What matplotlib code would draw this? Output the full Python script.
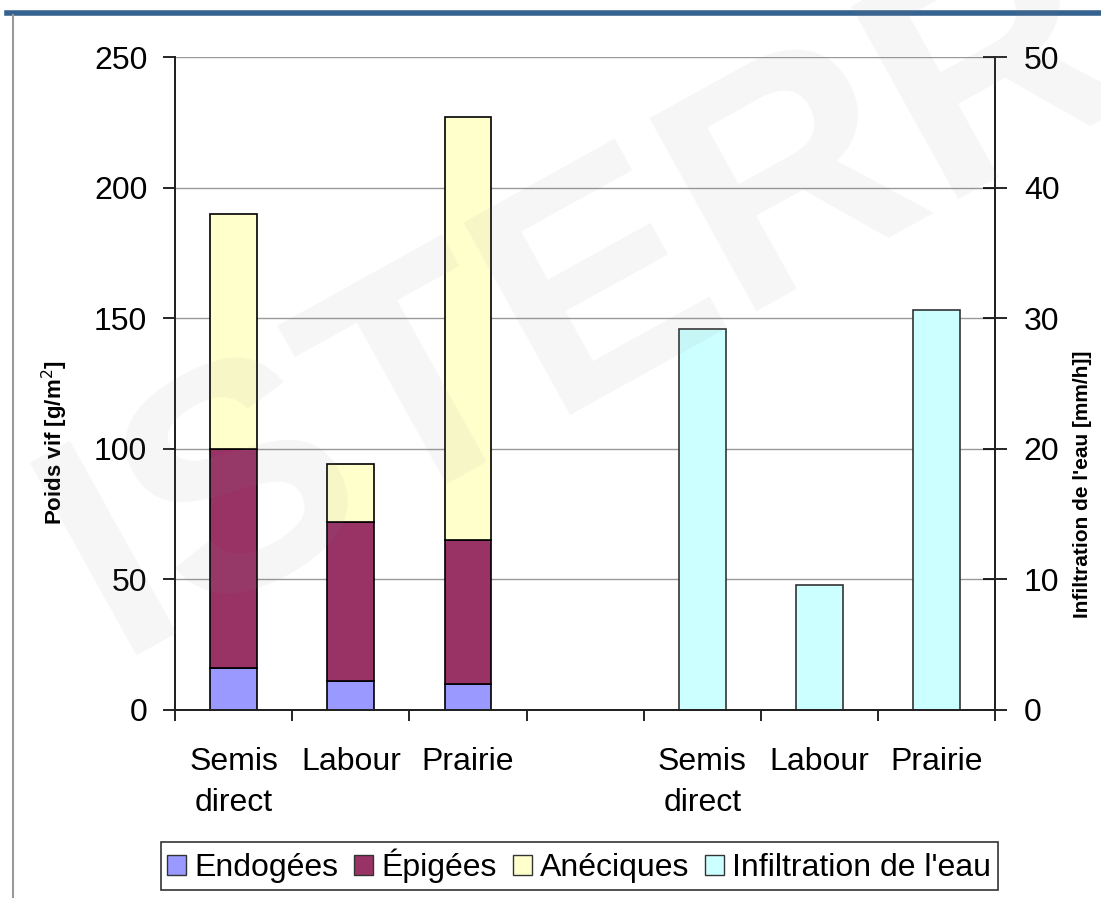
import matplotlib
matplotlib.use("Agg")
import matplotlib.pyplot as plt
from matplotlib.lines import Line2D
from matplotlib.patches import Patch

plt.rcParams['font.family'] = ['Liberation Sans', 'DejaVu Sans']

# categories (slot 3 is an empty spacer between the two groups)
CATEGORIES = ["Semis\ndirect", "Labour", "Prairie", "", "Semis\ndirect", "Labour", "Prairie"]
WORM_POS = [0, 1, 2]
INFIL_POS = [4, 5, 6]

# earthworm live weight [g/m2]
ENDOGEES = [16, 11, 10]
EPIGEES = [84, 61, 55]
ANECIQUES = [90, 22, 162]

# water infiltration [mm/h]
INFILTRATION = [29.2, 9.6, 30.6]

C_ENDO = "#9999FF"
C_EPI = "#993366"
C_ANE = "#FFFFCC"
C_INF = "#CCFFFF"

fig = plt.figure(figsize=(11.01, 8.98), dpi=100)
ax = fig.add_axes([0.159, 0.2094, 0.745, 0.7271])
ax2 = ax.twinx()

w = 0.4
ax.bar(WORM_POS, ENDOGEES, w, color=C_ENDO, edgecolor="black", linewidth=1.2, label="Endogées")
bottom2 = ENDOGEES
ax.bar(WORM_POS, EPIGEES, w, bottom=bottom2, color=C_EPI, edgecolor="black", linewidth=1.2,
       label="Épigées")
bottom3 = [a + b for a, b in zip(ENDOGEES, EPIGEES)]
ax.bar(WORM_POS, ANECIQUES, w, bottom=bottom3, color=C_ANE, edgecolor="black", linewidth=1.2,
       label="Anéciques")
ax2.bar(INFIL_POS, INFILTRATION, w, color=C_INF, edgecolor="#333333", linewidth=1.2,
        label="Infiltration de l'eau")

ax.set_xlim(-0.5, 6.5)
ax.set_ylim(0, 250)
ax2.set_ylim(0, 50)
ax.set_yticks(range(0, 251, 50))
ax2.set_yticks(range(0, 51, 10))
ax.yaxis.grid(True, color="#999999", linewidth=1)
ax.set_axisbelow(True)

ax.set_xticks(range(len(CATEGORIES)))
ax.set_xticklabels(CATEGORIES, fontsize=23, linespacing=1.45, va="top")
ax.set_xticks([x - 0.5 for x in range(len(CATEGORIES) + 1)], minor=True)
ax.tick_params(axis="x", which="major", length=0, pad=27)
ax.tick_params(axis="x", which="minor", length=8, width=1.2, direction="out")
ax.tick_params(axis="y", labelsize=23, length=9, width=1.2, direction="out", pad=11)
ax2.tick_params(axis="y", labelsize=23, length=17, width=1.2, direction="inout", pad=12)

for a in (ax, ax2):
    a.spines["top"].set_visible(False)
    for s in ("left", "right", "bottom"):
        a.spines[s].set_linewidth(1.4)
        a.spines[s].set_color("#222222")

ax.set_ylabel("Poids vif [g/m$^2$]", fontsize=16, fontweight="bold")
ax.yaxis.set_label_coords(-0.128, 0.41)
ax2.set_ylabel("Infiltration de l'eau [mm/h]]", fontsize=15, fontweight="bold", rotation=90)
ax2.yaxis.set_label_coords(1.095, 0.345)

handles = [Patch(facecolor=C_ENDO, edgecolor="#333333"),
           Patch(facecolor=C_EPI, edgecolor="#333333"),
           Patch(facecolor=C_ANE, edgecolor="#333333"),
           Patch(facecolor=C_INF, edgecolor="#333333")]
labels = ["Endogées", "Épigées", "Anéciques", "Infiltration de l'eau"]
leg = fig.legend(handles, labels, loc="center", bbox_to_anchor=(0.526, 0.0356), ncol=4,
                 fontsize=23, handlelength=0.6, handleheight=0.6, handletextpad=0.25,
                 columnspacing=0.5, borderpad=0.2, fancybox=False, edgecolor="#333333",
                 framealpha=1)
leg.get_frame().set_linewidth(1.2)

# watermark
fig.text(0.625, 0.73, "ISTERRA", fontsize=230, fontweight="bold", color="#888888", alpha=0.08,
         rotation=29, ha="center", va="center", zorder=10)

# slide frame: blue band on top, thin grey line on the left
fig.add_artist(Line2D([0.006, 1.0], [0.985, 0.985], color="#35628f", linewidth=4))
fig.add_artist(Line2D([0.012, 0.012], [0.0, 0.983], color="#999999", linewidth=1.5))

fig.savefig("out.png", dpi=100)
